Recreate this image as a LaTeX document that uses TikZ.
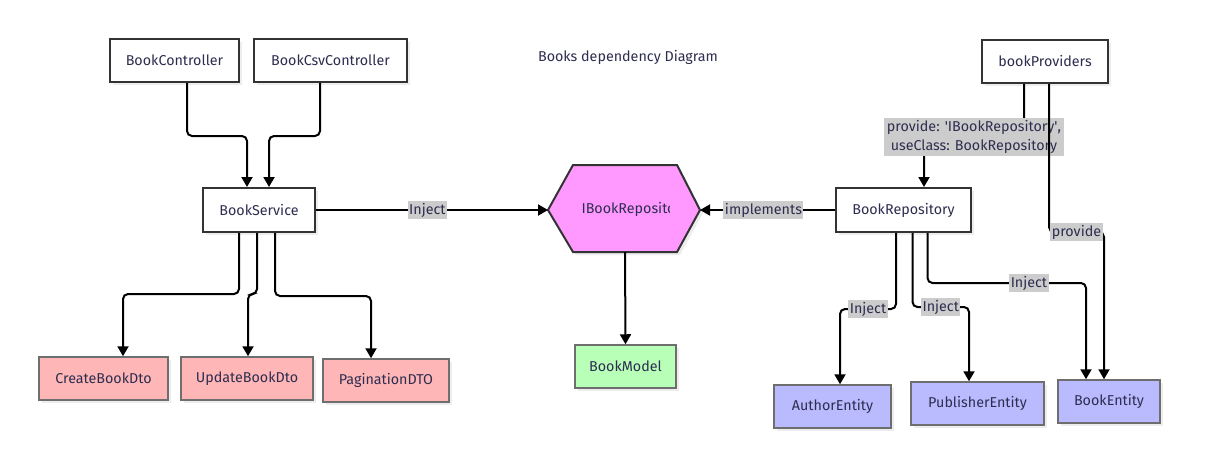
\documentclass[tikz,border=0pt]{standalone}
\usepackage{fontspec}
\setmainfont{Fira Sans}
\usetikzlibrary{arrows.meta,calc,shadows}
\definecolor{txt}{RGB}{45,45,80}
\definecolor{bord}{RGB}{51,51,51}
\definecolor{cbord}{RGB}{110,110,110}
\definecolor{pinkf}{RGB}{255,182,182}
\definecolor{bluef}{RGB}{186,186,255}
\definecolor{greenf}{RGB}{184,255,184}
\definecolor{hexf}{RGB}{255,153,255}
\definecolor{lblf}{RGB}{204,204,204}
\tikzset{
  base/.style={font=\fontsize{14.3}{19}\selectfont, text=txt},
  wbox/.style={base, draw=bord, line width=2pt, fill=white, inner sep=0pt,
    drop shadow={shadow xshift=3pt, shadow yshift=-3pt, fill=black!7, opacity=1}},
  cbox/.style={base, draw=cbord, line width=1.5pt, inner sep=0pt,
    drop shadow={shadow xshift=3pt, shadow yshift=-3pt, fill=black!7, opacity=1}},
  arr/.style={line width=2pt, draw=black, rounded corners=5pt, -{Triangle[width=11pt,length=10pt]}},
  lbl/.style={base, fill=lblf, inner xsep=1.5pt, inner ysep=1.5pt, rounded corners=0pt},
}
\begin{document}
\begin{tikzpicture}[x=1pt,y=-1pt]
\useasboundingbox (0,0) rectangle (1217,451);
\fill[white] (0,0) rectangle (1217,451);

\node[base] (title) at (628,57) {Books dependency Diagram};

\node[wbox, minimum width=129pt, minimum height=43pt] (bc) at (174.5,60.5) {BookController};
\node[wbox, minimum width=153pt, minimum height=43pt] (bcsv) at (330.5,60.5) {BookCsvController};
\node[wbox, minimum width=112pt, minimum height=44pt] (bs) at (259,210) {BookService};
\node[wbox, minimum width=126pt, minimum height=43pt] (bp) at (1045,61.5) {bookProviders};
\node[wbox, minimum width=135pt, minimum height=44pt] (br) at (903.5,210) {BookRepository};

\node[cbox, fill=pinkf, minimum width=129pt, minimum height=43pt] (cb) at (103.5,378.5) {CreateBookDto};
\node[cbox, fill=pinkf, minimum width=132pt, minimum height=43pt] (ub) at (247,378.5) {UpdateBookDto};
\node[cbox, fill=pinkf, minimum width=126pt, minimum height=43pt] (pg) at (386,380.5) {PaginationDTO};
\node[cbox, fill=greenf, minimum width=101pt, minimum height=43pt] (bm) at (625.5,366.5) {BookModel};
\node[cbox, fill=bluef, minimum width=117pt, minimum height=43pt] (ae) at (832.5,406.5) {AuthorEntity};
\node[cbox, fill=bluef, minimum width=133pt, minimum height=43pt] (pe) at (977.5,403.5) {PublisherEntity};
\node[cbox, fill=bluef, minimum width=102pt, minimum height=43pt] (be) at (1109,401.5) {BookEntity};

% hexagon
\fill[black!7] (551,213) -- (576,168) -- (680,168) -- (703,213) -- (680,255) -- (576,255) -- cycle;
\draw[draw=bord, line width=2pt, fill=hexf] (548,210) -- (573,165) -- (677,165) -- (700,210) -- (677,252) -- (573,252) -- cycle;
\coordinate (irL) at (548,210);
\coordinate (irR) at (700,210);
\coordinate (irB) at (625,252);
\begin{scope}
\clip (560,190) rectangle (669,230);
\node[base, anchor=west] (ir) at (578,209) {IBookRepository};
\end{scope}

% edges
\draw[arr] ($(bc.south)+(12.5,0)$) -- ++(0,53) -| ($(bs.north)+(-12,0)$);
\draw[arr] ($(bcsv.south)+(-10.5,0)$) -- ++(0,53) -| ($(bs.north)+(10,0)$);
\draw[arr] (bs.east) -- node[lbl, pos=0.48] {Inject} (irL);
\draw[arr] (br.west) -- node[lbl, pos=0.53] {implements} (irR);
\draw[arr] (irB) -- (bm.north);

\draw[arr] ($(bs.south)+(-20,0)$) -- ++(0,61) -| ($(cb.north)+(19.5,0)$);
\draw[arr] ($(bs.south)+(-2,0)$) -- ++(0,61) -| ($(ub.north)+(1,0)$);
\draw[arr] ($(bs.south)+(16,0)$) -- ++(0,63) -| ($(pg.north)+(-15,0)$);

\draw[arr] ($(bp.south)+(-21,0)$) -- ++(0,53) -| node[lbl, pos=0.25, align=center, inner xsep=3pt, inner ysep=2pt] {provide: \textquotesingle IBookRepository\textquotesingle,\\ useClass: BookRepository} ($(br.north)+(20.5,0)$);
\draw[arr] ($(bp.south)+(4,0)$) -- ++(0,148) -| node[lbl, pos=0.25] {provide} ($(be.north)+(-5,0)$);

\draw[arr] ($(br.south)+(-7.5,0)$) -- ++(0,76) -| node[lbl, pos=0.25] {Inject} ($(ae.north)+(7.5,0)$);
\draw[arr] ($(br.south)+(9,0)$) -- ++(0,74) -| node[lbl, pos=0.25] {Inject} ($(pe.north)+(-8.5,0)$);
\draw[arr] ($(br.south)+(24,0)$) -- ++(0,50) -| node[lbl, pos=0.32] {Inject} ($(be.north)+(-23,0)$);
\end{tikzpicture}
\end{document}
